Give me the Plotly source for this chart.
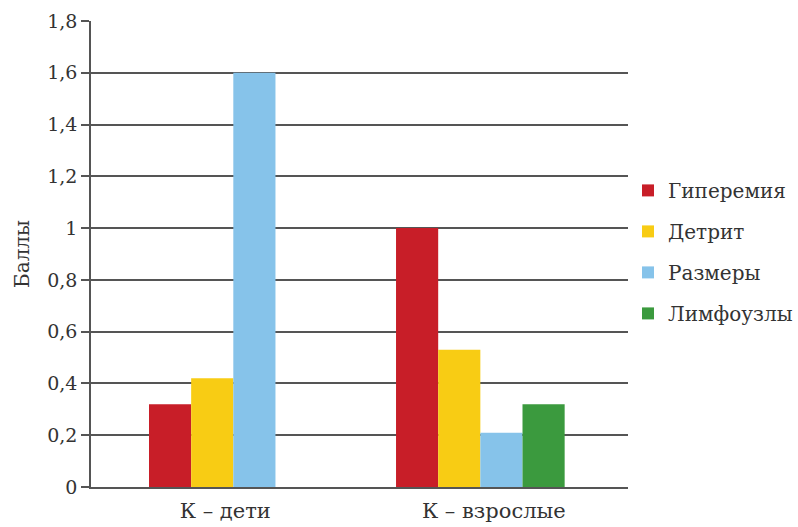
import plotly.graph_objects as go

# Category labels and series values (scores)
categories = ["К – дети", "К – взрослые"]
series_names = ["Гиперемия", "Детрит", "Размеры", "Лимфоузлы"]
hyperemia = [0.32, 1.0]
detritus = [0.42, 0.53]
size_vals = [1.6, 0.21]
lymph = [None, 0.32]
y_ticks = [0, 0.2, 0.4, 0.6, 0.8, 1, 1.2, 1.4, 1.6, 1.8]

series_values = [hyperemia, detritus, size_vals, lymph]
colors = ["#C81E28", "#F8CC14", "#86C3EA", "#3B9A3E"]

FONT = "DejaVu Serif"
TEXT = "#333333"
GRID = "#555555"

bar_w = 0.157
group_shift = [0.03, -0.05]

fig = go.Figure()
for i, (name, vals, col) in enumerate(zip(series_names, series_values, colors)):
    offsets = [-2 * bar_w + i * bar_w + s for s in group_shift]
    fig.add_trace(go.Bar(
        x=categories,
        y=vals,
        name=name,
        marker=dict(color=col, line=dict(width=0)),
        width=bar_w,
        offset=offsets,
        legendgroup=name,
    ))

fig.update_layout(
    width=798,
    height=527,
    margin=dict(l=91, r=166, t=21, b=40),
    paper_bgcolor="white",
    plot_bgcolor="white",
    separators=", ",
    barmode="overlay",
    font=dict(family=FONT, size=20, color=TEXT),
    showlegend=True,
    legend=dict(
        xref="container", yref="container",
        x=0.787, xanchor="left",
        y=0.522, yanchor="middle",
        font=dict(family=FONT, size=20, color=TEXT),
        tracegroupgap=12,
        bgcolor="rgba(0,0,0,0)",
    ),
    xaxis=dict(
        type="category",
        range=[-0.5, 1.5],
        automargin=False,
        showgrid=False,
        showline=True,
        linecolor=GRID,
        linewidth=1.5,
        ticks="",
        tickfont=dict(family=FONT, size=21, color=TEXT),
        ticklabelstandoff=4,
    ),
    yaxis=dict(
        range=[0, 1.8],
        automargin=False,
        tickvals=y_ticks,
        showgrid=True,
        gridcolor=GRID,
        gridwidth=1.5,
        zeroline=False,
        showline=True,
        linecolor=GRID,
        linewidth=1.5,
        ticks="outside",
        ticklen=8,
        tickcolor=GRID,
        tickwidth=1.5,
        tickfont=dict(family=FONT, size=19, color=TEXT),
        title=dict(text="Баллы", font=dict(family=FONT, size=20, color=TEXT), standoff=12),
    ),
)

fig.write_html("out.html")
